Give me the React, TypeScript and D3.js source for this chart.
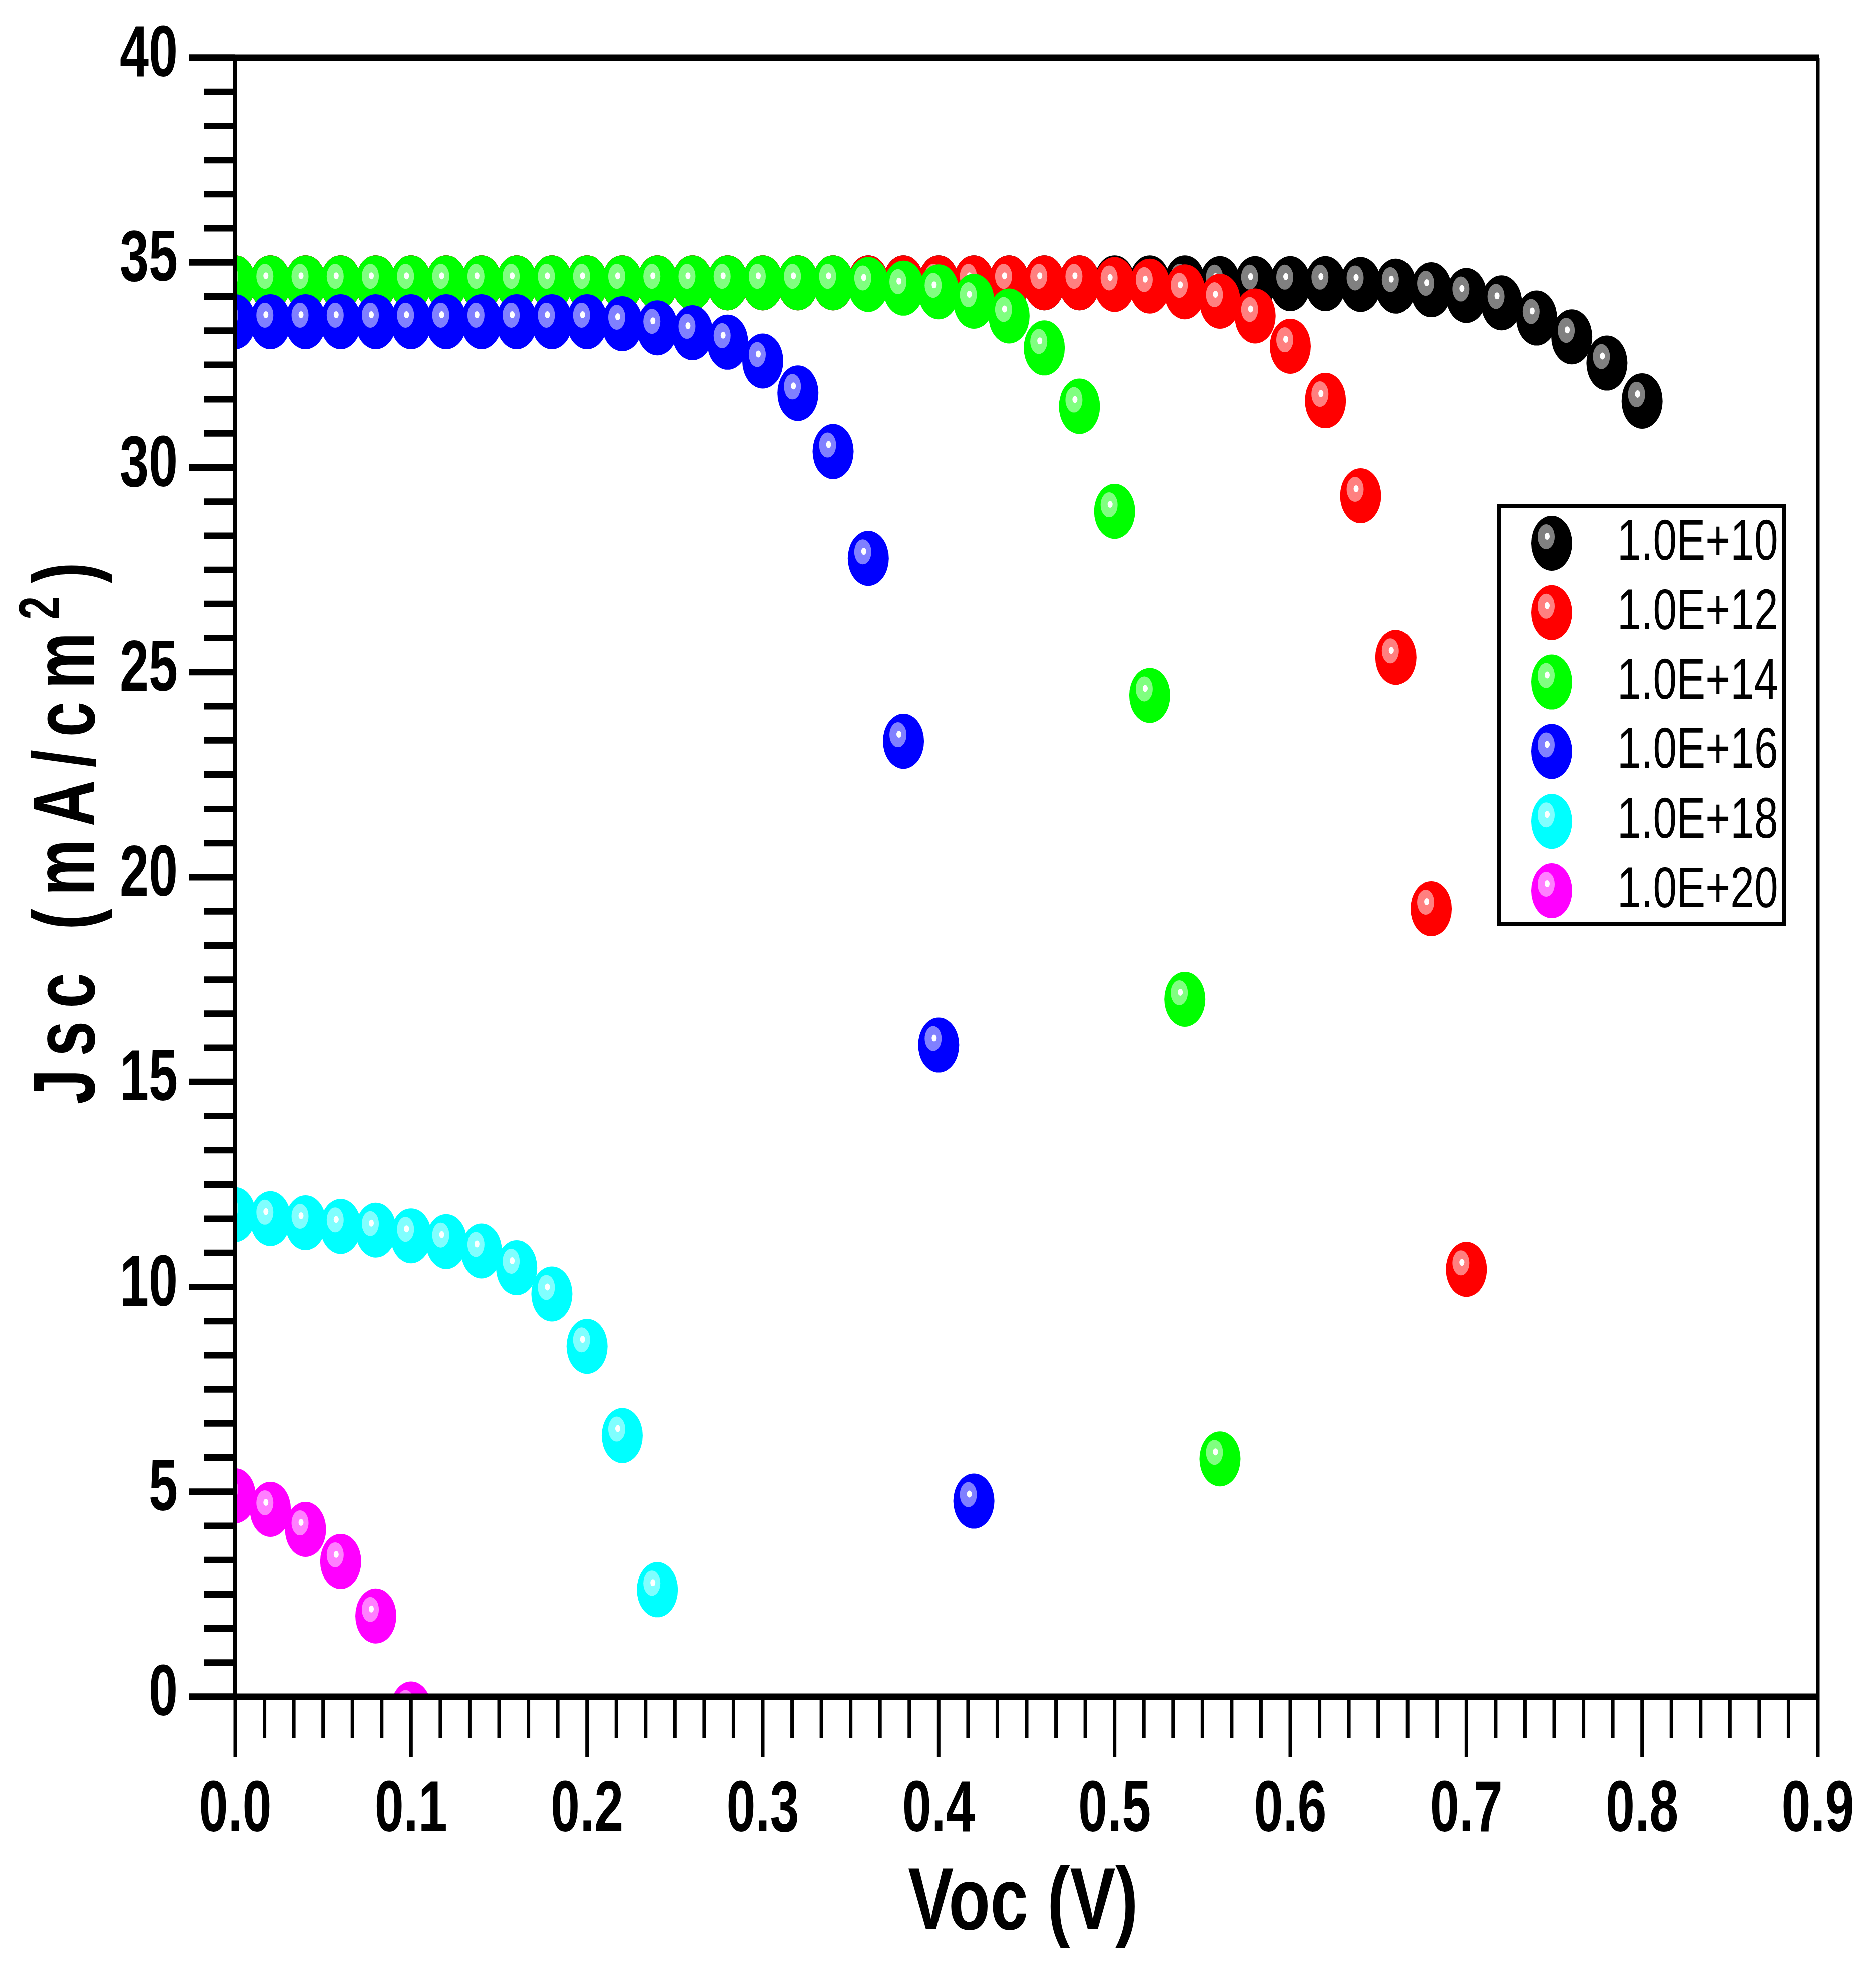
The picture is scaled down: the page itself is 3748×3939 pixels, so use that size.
import * as d3 from "d3";

// Voc sweep (V) shared by all doping series
const voc = [
  0, 0.02, 0.04, 0.06, 0.08, 0.1, 0.12, 0.14, 0.16, 0.18, 0.2, 0.22, 0.24, 0.26,
  0.28, 0.3, 0.32, 0.34, 0.36, 0.38, 0.4, 0.42, 0.44, 0.46, 0.48, 0.5, 0.52,
  0.54, 0.56, 0.58, 0.6, 0.62, 0.64, 0.66, 0.68, 0.7, 0.72, 0.74, 0.76, 0.78, 0.8,
];

// Jsc (mA/cm2) per series
const jsc1e10 = [
  34.5, 34.5, 34.5, 34.5, 34.5, 34.5, 34.5, 34.5, 34.5, 34.5, 34.5, 34.5, 34.5,
  34.5, 34.5, 34.5, 34.5, 34.5, 34.5, 34.5, 34.5, 34.5, 34.5, 34.5, 34.5, 34.5,
  34.5, 34.5, 34.48, 34.48, 34.48, 34.48, 34.46, 34.42, 34.33, 34.19, 34.01,
  33.64, 33.18, 32.54, 31.62,
];
const jsc1e12 = [
  34.5, 34.5, 34.5, 34.5, 34.5, 34.5, 34.5, 34.5, 34.5, 34.5, 34.5, 34.5, 34.5,
  34.5, 34.5, 34.5, 34.5, 34.5, 34.5, 34.5, 34.5, 34.5, 34.5, 34.5, 34.5, 34.46,
  34.42, 34.28, 34.05, 33.69, 32.95, 31.63, 29.31, 25.36, 19.23, 10.43,
];
const jsc1e14 = [
  34.5, 34.5, 34.5, 34.5, 34.5, 34.5, 34.5, 34.5, 34.5, 34.5, 34.5, 34.5, 34.5,
  34.5, 34.5, 34.5, 34.5, 34.5, 34.46, 34.37, 34.28, 34.05, 33.69, 32.91, 31.49,
  28.93, 24.43, 17.02, 5.8,
];
const jsc1e16 = [
  33.55, 33.55, 33.55, 33.55, 33.55, 33.55, 33.55, 33.55, 33.55, 33.55, 33.55,
  33.5, 33.4, 33.28, 33.05, 32.59, 31.81, 30.39, 27.78, 23.31, 15.9, 4.77,
];
const jsc1e18 = [
  11.77, 11.67, 11.57, 11.48, 11.39, 11.25, 11.11, 10.88, 10.47, 9.83, 8.55, 6.37,
  2.61,
];
const jsc1e20 = [4.9, 4.57, 4.08, 3.3, 1.97, -0.3];

const seriesNames = ["1.0E+10", "1.0E+12", "1.0E+14", "1.0E+16", "1.0E+18", "1.0E+20"];
const seriesValues = [jsc1e10, jsc1e12, jsc1e14, jsc1e16, jsc1e18, jsc1e20];
const seriesColors = ["#000000", "#ff0000", "#00ff00", "#0000ff", "#00ffff", "#ff00ff"];

const xTickLabels = ["0.0", "0.1", "0.2", "0.3", "0.4", "0.5", "0.6", "0.7", "0.8", "0.9"];
const yTickLabels = ["0", "5", "10", "15", "20", "25", "30", "35", "40"];

const W = 3748;
const H = 3939;
const FONT = "'Liberation Sans', Arial, Helvetica, sans-serif";

function Marker({ cx, cy, color }) {
  return (
    <g transform={`translate(${cx},${cy})`}>
      <ellipse rx={41} ry={55} fill={color} />
      <ellipse cx={-11} cy={-13} rx={17} ry={25} fill="#ffffff" opacity={0.5} />
      <ellipse cx={-9} cy={-14} rx={5} ry={7} fill="#ffffff" />
    </g>
  );
}

export default function App() {
  const x = d3.scaleLinear().domain([0, 0.9]).range([470, 3632]);
  const y = d3.scaleLinear().domain([0, 40]).range([3389, 115]);

  const x0 = x(0), x1 = x(0.9), y0 = y(0), y1 = y(40);

  // 6 sub-divisions between labelled ticks on both axes
  const xTicks = d3.range(0, 55).map((i) => ({ v: (i * 0.9) / 54, major: i % 6 === 0 }));
  const yTicks = d3.range(0, 49).map((i) => ({ v: (i * 40) / 48, major: i % 6 === 0 }));

  const legendTop = 1085;
  const legendStep = 138.8;

  return (
    <svg
      width={W}
      height={H}
      viewBox={`0 0 ${W} ${H}`}
      style={{ position: "absolute", left: 0, top: 0, background: "#fff" }}
      fontFamily={FONT}
    >
      <defs>
        <clipPath id="plotClip">
          <rect x={x0} y={y1} width={x1 - x0} height={y0 - y1} />
        </clipPath>
      </defs>
      <rect width={W} height={H} fill="#fff" />

      {/* data */}
      <g clipPath="url(#plotClip)">
        {seriesValues.map((vals, s) => (
          <g key={seriesNames[s]}>
            {vals.map((v, i) => (
              <Marker key={i} cx={x(voc[i])} cy={y(v)} color={seriesColors[s]} />
            ))}
          </g>
        ))}
      </g>

      {/* y ticks (left, thick) */}
      {yTicks.map((t, i) => (
        <line
          key={"yt" + i}
          x1={t.major ? x0 - 93 : x0 - 63}
          x2={x0}
          y1={y(t.v)}
          y2={y(t.v)}
          stroke="#000"
          strokeWidth={13}
        />
      ))}
      {/* x ticks (below, thin) */}
      {xTicks.map((t, i) => (
        <line
          key={"xt" + i}
          x1={x(t.v)}
          x2={x(t.v)}
          y1={y0}
          y2={t.major ? y0 + 121 : y0 + 83}
          stroke="#000"
          strokeWidth={7}
        />
      ))}

      {/* frame */}
      <line x1={x0} x2={x0} y1={y1} y2={y0} stroke="#000" strokeWidth={8} />
      <line x1={x1} x2={x1} y1={y1} y2={y0} stroke="#000" strokeWidth={7} />
      <line x1={x0 - 93} x2={x1 + 3} y1={y1} y2={y1} stroke="#000" strokeWidth={13} />
      <line x1={x0 - 93} x2={x1 + 3} y1={y0} y2={y0} stroke="#000" strokeWidth={13} />

      {/* y tick labels */}
      {yTickLabels.map((lab, i) => (
        <text
          key={"yl" + i}
          transform={`translate(${x0 - 115},${y(i * 5) + 37}) scale(0.72,1)`}
          textAnchor="end"
          fontSize={145}
          fontWeight="bold"
        >
          {lab}
        </text>
      ))}
      {/* x tick labels */}
      {xTickLabels.map((lab, i) => (
        <text
          key={"xl" + i}
          transform={`translate(${x(i * 0.1)},3658) scale(0.72,1)`}
          textAnchor="middle"
          fontSize={145}
          fontWeight="bold"
        >
          {lab}
        </text>
      ))}

      {/* axis titles */}
      <text
        transform={`translate(2044,3854) scale(0.77,1)`}
        textAnchor="middle"
        fontSize={177}
        fontWeight="bold"
      >
        Voc (V)
      </text>
      <text
        transform={`translate(188,1652) rotate(-90) scale(0.73,1)`}
        textAnchor="middle"
        fontSize={174}
        fontWeight="bold"
        letterSpacing={35}
      >
        Jsc (mA/cm
        <tspan fontSize={115} dy={-70}>2</tspan>
        <tspan dy={70}>)</tspan>
      </text>

      {/* legend */}
      <rect x={2995} y={1010} width={570} height={835} fill="#fff" stroke="#000" strokeWidth={8} />
      {seriesNames.map((name, i) => (
        <g key={"lg" + i}>
          <Marker cx={3100} cy={legendTop + i * legendStep} color={seriesColors[i]} />
          <text
            transform={`translate(3231,${legendTop + i * legendStep + 33}) scale(0.745,1)`}
            fontSize={115}
          >
            {name}
          </text>
        </g>
      ))}
    </svg>
  );
}
